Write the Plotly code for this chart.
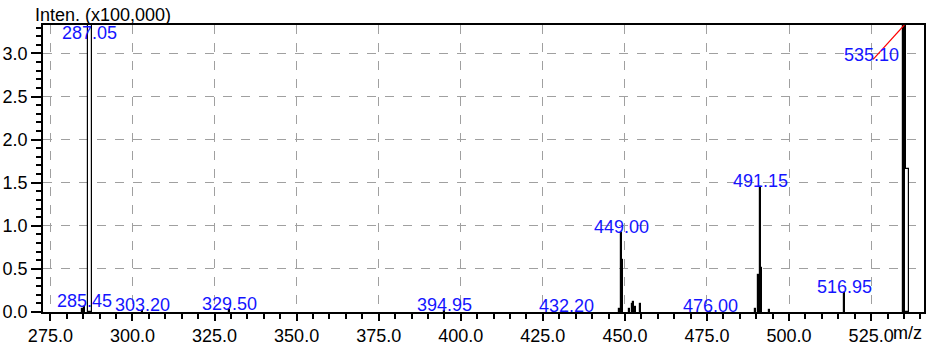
import plotly.graph_objects as go

# ---- data (m/z, intensity x100,000) ----
peak_mz = [284.9, 285.45, 287.05, 303.20, 329.50, 394.95, 432.20, 448.4, 449.00, 449.35,
           451.5, 452.2, 452.7, 453.3, 454.6, 476.00, 489.9, 490.6, 491.15, 491.5,
           493.9, 516.95, 535.10, 535.9]
peak_int = [0.03, 0.06, 3.45, 0.01, 0.02, 0.01, 0.005, 0.03, 0.92, 0.60,
            0.04, 0.09, 0.12, 0.06, 0.09, 0.005, 0.03, 0.43, 1.45, 0.51,
            0.02, 0.22, 3.40, 1.66]
label_mz = [285.45, 287.05, 303.20, 329.50, 394.95, 432.20, 449.00, 476.00, 491.15, 516.95, 535.10]
label_text = ["285.45", "287.05", "303.20", "329.50", "394.95", "432.20", "449.00", "476.00", "491.15", "516.95", "535.10"]
x_ticks = [275.0, 300.0, 325.0, 350.0, 375.0, 400.0, 425.0, 450.0, 475.0, 500.0, 525.0]
y_ticks = [0.0, 0.5, 1.0, 1.5, 2.0, 2.5, 3.0]

X_RANGE = [272.75, 541.1]
Y_RANGE = [0, 3.33]
FONT = "Liberation Sans, Arial, sans-serif"
FS = 18
BLUE = "#1414ff"

hollow = {287.05, 535.9}
thick = {535.10}
colors = ["white" if m in hollow else "black" for m in peak_mz]
widths = [1.2 if m in hollow else (1.0 if m in thick else 0.3) for m in peak_mz]

fig = go.Figure()
fig.add_trace(go.Bar(
    x=peak_mz, y=peak_int, width=widths,
    marker=dict(color=colors, line=dict(color="black", width=1.2)),
    hoverinfo="x+y",
))

int_by_mz = dict(zip(peak_mz, peak_int))
for m, t in zip(label_mz, label_text):
    h = int_by_mz[m]
    if m == 287.05:
        fig.add_annotation(x=m, y=Y_RANGE[1], text=t, showarrow=False,
                           yanchor="top", yshift=4, font=dict(color=BLUE, size=FS, family=FONT))
    elif m == 535.10:
        lx, ly = m - 10.1, Y_RANGE[1] - 0.35
        fig.add_shape(type="line", x0=m - 9.5, y0=Y_RANGE[1] - 0.40, x1=m, y1=Y_RANGE[1],
                      line=dict(color="red", width=1.2))
        fig.add_annotation(x=lx, y=ly, text=t, showarrow=False,
                           yanchor="middle", font=dict(color=BLUE, size=FS, family=FONT))
    else:
        fig.add_annotation(x=m, y=h, text=t, showarrow=False,
                           yanchor="middle", yshift=6, font=dict(color=BLUE, size=FS, family=FONT))

fig.add_annotation(x=0, y=1, xref="paper", yref="paper", xanchor="left", yanchor="bottom",
                   xshift=-10, yshift=-2, text="Inten. (x100,000)", showarrow=False,
                   font=dict(color="black", size=FS, family=FONT))
fig.add_annotation(x=1, y=0, xref="paper", yref="paper", xanchor="right", yanchor="top",
                   xshift=0, yshift=-9, text="m/z", showarrow=False,
                   font=dict(color="black", size=FS, family=FONT))

fig.update_layout(
    width=933, height=345,
    margin=dict(l=43, r=9, t=25, b=33),
    paper_bgcolor="white", plot_bgcolor="white",
    showlegend=False, bargap=0,
    font=dict(family=FONT, size=FS, color="black"),
)
fig.update_xaxes(
    range=X_RANGE, tickvals=x_ticks, ticktext=[f"{v:.1f}" for v in x_ticks],
    ticks="outside", ticklen=7, tickwidth=1.5, tickcolor="black",
    minor=dict(dtick=5, tick0=275, ticks="outside", ticklen=5, tickwidth=1.5, tickcolor="black", showgrid=False),
    showline=True, linecolor="black", linewidth=1.5, mirror=True,
    showgrid=True, gridcolor="#a0a0a0", griddash="dash", gridwidth=1,
    zeroline=False, automargin=False, tickfont=dict(size=FS, family=FONT),
)
fig.update_yaxes(
    range=Y_RANGE, tickvals=y_ticks, ticktext=[f"{v:.1f}" for v in y_ticks],
    ticks="outside", ticklen=10, tickwidth=1.5, tickcolor="black",
    minor=dict(dtick=0.1, tick0=0, ticks="outside", ticklen=5, tickwidth=1.5, tickcolor="black", showgrid=False),
    showline=True, linecolor="black", linewidth=1.5, mirror=True,
    showgrid=True, gridcolor="#a0a0a0", griddash="dash", gridwidth=1,
    zeroline=False, automargin=False, tickfont=dict(size=FS, family=FONT),
)

fig.write_html("out.html", config={"displayModeBar": False},
               post_script="document.body.style.margin='0';document.body.style.overflow='hidden';")
